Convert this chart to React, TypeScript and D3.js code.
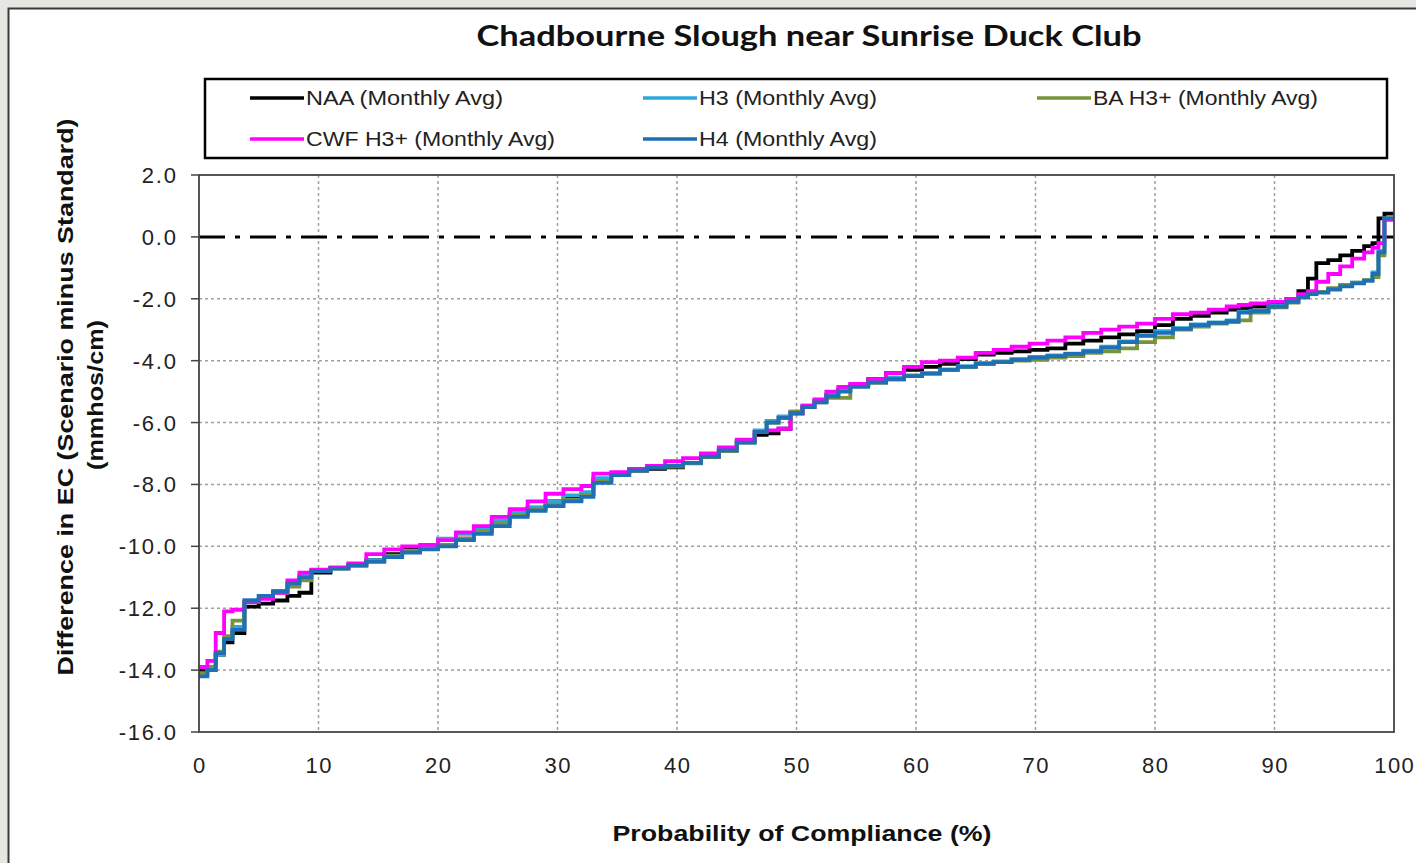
import React from "react";
import * as d3 from "d3";

const TITLE = "Chadbourne  Slough  near  Sunrise  Duck  Club";
const X_TITLE = "Probability  of  Compliance  (%)";
const Y_TITLE_1 = "Difference  in  EC  (Scenario  minus  Standard)";
const Y_TITLE_2 = "(mmhos/cm)";

const X_TICKS = [0, 10, 20, 30, 40, 50, 60, 70, 80, 90, 100];
const Y_TICKS = [2, 0, -2, -4, -6, -8, -10, -12, -14, -16];

const PCT = [0, 0.7, 1.4, 2.1, 2.8, 3.8, 5, 6.2, 7.4, 8.4, 9.4, 11, 12.5, 14, 15.5, 17, 18.5, 20, 21.5, 23, 24.5, 26, 27.5, 29, 30.5, 32, 33, 34.5, 36, 37.5, 39, 40.5, 42, 43.5, 45, 46.5, 47.5, 48.5, 49.5, 50.5, 51.5, 52.5, 53.5, 54.5, 56, 57.5, 59, 60.5, 62, 63.5, 65, 66.5, 68, 69.5, 71, 72.5, 74, 75.5, 77, 78.5, 80, 81.5, 83, 84.5, 86, 87, 88, 89.5, 91, 92, 92.8, 93.5, 94.5, 95.5, 96.5, 97.5, 98.2, 98.7, 99.2, 100];

const NAA = [-14.0, -13.9, -13.5, -13.1, -12.8, -11.95, -11.85, -11.75, -11.6, -11.5, -10.85, -10.7, -10.6, -10.45, -10.25, -10.1, -10.05, -9.95, -9.75, -9.5, -9.2, -8.95, -8.75, -8.55, -8.4, -8.3, -7.85, -7.65, -7.55, -7.5, -7.45, -7.3, -7.1, -6.9, -6.6, -6.4, -6.35, -6.2, -5.7, -5.5, -5.3, -5.1, -4.95, -4.8, -4.6, -4.4, -4.3, -4.2, -4.1, -3.95, -3.8, -3.75, -3.7, -3.65, -3.6, -3.45, -3.35, -3.25, -3.15, -3.05, -2.85, -2.65, -2.55, -2.45, -2.35, -2.3, -2.25, -2.15, -2.0, -1.75, -1.35, -0.85, -0.75, -0.6, -0.45, -0.3, -0.2, 0.6, 0.75, 0.75];

const H3 = [-14.15, -14.0, -13.5, -13.0, -12.6, -11.75, -11.6, -11.45, -11.2, -10.95, -10.8, -10.7, -10.6, -10.45, -10.3, -10.15, -10.05, -9.75, -9.6, -9.4, -9.15, -8.9, -8.75, -8.55, -8.35, -8.25, -7.8, -7.65, -7.5, -7.45, -7.4, -7.3, -7.1, -6.9, -6.6, -6.25, -5.95, -5.8, -5.65, -5.45, -5.3, -5.1, -4.95, -4.8, -4.7, -4.55, -4.48, -4.4, -4.28, -4.18, -4.08, -4.02, -3.95, -3.88, -3.83, -3.77, -3.68, -3.55, -3.38, -3.18, -3.05, -2.95, -2.83, -2.76, -2.7, -2.42, -2.38, -2.22, -2.08, -1.93, -1.83, -1.78, -1.68, -1.58, -1.48, -1.4, -1.15, -0.45, 0.6, 0.6];

const BA_H3 = [-14.1, -13.9, -13.4, -12.9, -12.4, -11.8, -11.65, -11.5, -11.3, -11.1, -10.8, -10.72, -10.62, -10.48, -10.32, -10.18, -10.08, -9.95, -9.75, -9.5, -9.25, -9.0, -8.8, -8.65, -8.5, -8.35, -7.9, -7.7, -7.55, -7.45, -7.42, -7.32, -7.12, -6.92, -6.65, -6.3, -6.0, -5.85, -5.65, -5.5, -5.35, -5.2, -5.2, -4.8, -4.72, -4.6, -4.5, -4.42, -4.3, -4.2, -4.1, -4.05, -4.0, -3.97, -3.9, -3.85, -3.75, -3.7, -3.6, -3.4, -3.25, -3.0, -2.9, -2.8, -2.75, -2.7, -2.45, -2.28, -2.12, -1.95, -1.85, -1.78, -1.66, -1.55, -1.48, -1.4, -1.3, -0.6, 0.6, 0.6];

const CWF_H3 = [-13.9, -13.7, -12.8, -12.1, -12.05, -11.8, -11.7, -11.5, -11.1, -10.85, -10.75, -10.68, -10.55, -10.25, -10.1, -10.0, -9.95, -9.8, -9.55, -9.35, -9.05, -8.8, -8.55, -8.3, -8.15, -8.05, -7.65, -7.6, -7.5, -7.4, -7.25, -7.15, -7.0, -6.8, -6.55, -6.3, -6.25, -6.2, -5.7, -5.45, -5.25, -5.0, -4.85, -4.75, -4.6, -4.4, -4.2, -4.05, -4.0, -3.9, -3.75, -3.65, -3.55, -3.45, -3.35, -3.25, -3.1, -3.0, -2.9, -2.8, -2.65, -2.5, -2.45, -2.35, -2.25, -2.2, -2.15, -2.1, -2.0, -1.85, -1.75, -1.45, -1.2, -0.95, -0.7, -0.5, -0.35, -0.2, 0.55, 0.55];

const H4 = [-14.2, -14.0, -13.45, -13.0, -12.7, -11.75, -11.6, -11.45, -11.2, -11.0, -10.8, -10.72, -10.62, -10.5, -10.35, -10.2, -10.1, -10.0, -9.8, -9.6, -9.35, -9.05, -8.85, -8.7, -8.55, -8.4, -7.95, -7.7, -7.55, -7.45, -7.4, -7.3, -7.1, -6.9, -6.65, -6.3, -6.0, -5.85, -5.7, -5.5, -5.35, -5.15, -5.0, -4.85, -4.7, -4.6, -4.5, -4.42, -4.3, -4.2, -4.1, -4.05, -3.97, -3.9, -3.85, -3.78, -3.7, -3.58, -3.4, -3.2, -3.1, -2.97, -2.85, -2.78, -2.72, -2.45, -2.4, -2.25, -2.1, -1.95, -1.85, -1.8, -1.7, -1.6, -1.5, -1.42, -1.2, -0.5, 0.6, 0.6];

const SERIES_NAMES = ["NAA (Monthly  Avg)", "H3 (Monthly  Avg)", "BA H3+ (Monthly  Avg)", "CWF H3+ (Monthly  Avg)", "H4 (Monthly  Avg)"];
const SERIES_VALUES = [NAA, H3, BA_H3, CWF_H3, H4];
const SERIES_COLORS = ["#000000", "#2ea8dc", "#77933c", "#ff00ff", "#1f6fb5"];

// layout / style
const W = 1416;
const H = 863;
const PL = 199, PR = 1394, PT = 175, PB = 732;
const LEGEND_TEXT_WIDTHS = [197, 178, 225, 249, 178];

export default function App() {
  const x = d3.scaleLinear().domain([0, 100]).range([PL, PR]);
  const y = d3.scaleLinear().domain([-16, 2]).range([PB, PT]);
  const line = d3
    .line<[number, number]>()
    .x((d) => x(d[0]))
    .y((d) => y(d[1]))
    .curve(d3.curveStepAfter);

  const font = "Liberation Sans, Arial, sans-serif";

  const legendCols = [250, 643, 1037];
  const legendRows = [98, 139];
  const legendItems = [0, 1, 2, 3, 4].map((i) => ({
    name: SERIES_NAMES[i],
    color: SERIES_COLORS[i],
    lx: legendCols[i % 3],
    ly: legendRows[Math.floor(i / 3)],
    tw: LEGEND_TEXT_WIDTHS[i],
  }));

  const tickLS = 1.8;

  return (
    <svg
      width={W}
      height={H}
      style={{ position: "absolute", left: 0, top: 0, display: "block", whiteSpace: "pre" }}
      fontFamily={font}
    >
      <rect x={0} y={0} width={W} height={H} fill="#e6e6e2" />
      <rect x={8.5} y={8.5} width={W + 20} height={H + 20} fill="#ffffff" stroke="#3a3a3a" strokeWidth={2} />

      {/* title */}
      <text
        x={809}
        y={46}
        textAnchor="middle"
        fontFamily="Lato, 'Open Sans', sans-serif"
        fontWeight="bold"
        fontSize={29}
        fill="#111"
        textLength={665}
        lengthAdjust="spacingAndGlyphs"
      >
        {TITLE}
      </text>

      {/* legend */}
      <rect x={205} y={79} width={1182} height={79} fill="#fff" stroke="#000" strokeWidth={2.5} />
      {legendItems.map((it, i) => (
        <g key={i}>
          <line x1={it.lx} x2={it.lx + 54} y1={it.ly} y2={it.ly} stroke={it.color} strokeWidth={3.5} />
          <text
            x={it.lx + 56}
            y={it.ly + 7}
            fontSize={20}
            fill="#222"
            textLength={it.tw}
            lengthAdjust="spacingAndGlyphs"
          >
            {it.name}
          </text>
        </g>
      ))}

      {/* grid */}
      {X_TICKS.filter((t) => t > 0 && t < 100).map((t) => (
        <line key={"gx" + t} x1={x(t)} x2={x(t)} y1={PT} y2={PB} stroke="#a0a0a0" strokeWidth={1.5} strokeDasharray="3,3" />
      ))}
      {Y_TICKS.filter((t) => t > -16 && t < 2 && t !== 0).map((t) => (
        <line key={"gy" + t} x1={PL} x2={PR} y1={y(t)} y2={y(t)} stroke="#a0a0a0" strokeWidth={1.5} strokeDasharray="3,3" />
      ))}

      {/* zero line */}
      <line x1={PL} x2={PR} y1={y(0)} y2={y(0)} stroke="#000" strokeWidth={3} strokeDasharray="26,10,5,10" />

      {/* series */}
      {SERIES_VALUES.map((vals, i) => {
        const pts: [number, number][] = PCT.map((p, j) => [p, vals[j]]);
        return (
          <path key={"s" + i} d={line(pts) || ""} fill="none" stroke={SERIES_COLORS[i]} strokeWidth={3.8} strokeLinejoin="miter" />
        );
      })}

      {/* frame */}
      <rect x={PL} y={PT} width={PR - PL} height={PB - PT} fill="none" stroke="#444" strokeWidth={1.8} />

      {/* y ticks */}
      {Y_TICKS.map((t) => (
        <g key={"yt" + t}>
          <line x1={PL - 8} x2={PL} y1={y(t)} y2={y(t)} stroke="#444" strokeWidth={1.5} />
          <text x={176 + tickLS} y={y(t) + 8} textAnchor="end" fontSize={22} letterSpacing={tickLS} fill="#222">
            {t.toFixed(1)}
          </text>
        </g>
      ))}

      {/* x ticks */}
      {X_TICKS.map((t) => (
        <text key={"xt" + t} x={x(t) + 0.75} y={773} textAnchor="middle" fontSize={22} letterSpacing={1.5} fill="#222">
          {t}
        </text>
      ))}

      {/* axis titles */}
      <text
        x={802}
        y={841}
        textAnchor="middle"
        fontSize={22}
        fontWeight="bold"
        fill="#111"
        textLength={379}
        lengthAdjust="spacingAndGlyphs"
      >
        {X_TITLE}
      </text>
      <text
        transform={`translate(73, 397) rotate(-90)`}
        textAnchor="middle"
        fontSize={22}
        fontWeight="bold"
        fill="#111"
        textLength={557}
        lengthAdjust="spacingAndGlyphs"
      >
        {Y_TITLE_1}
      </text>
      <text
        transform={`translate(103, 395) rotate(-90)`}
        textAnchor="middle"
        fontSize={22}
        fontWeight="bold"
        fill="#111"
        textLength={150}
        lengthAdjust="spacingAndGlyphs"
      >
        {Y_TITLE_2}
      </text>
    </svg>
  );
}
